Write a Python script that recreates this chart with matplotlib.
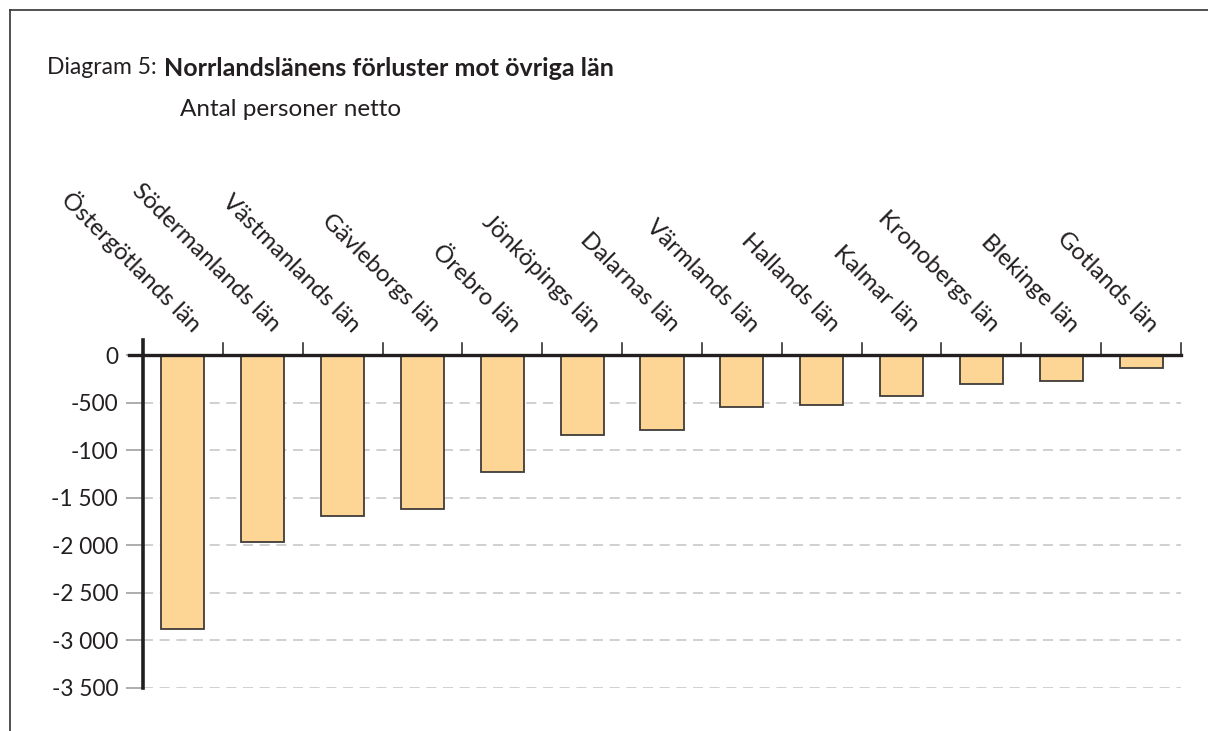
import matplotlib.pyplot as plt
from matplotlib.lines import Line2D
import numpy as np

plt.rcParams['font.family'] = ['Lato', 'DejaVu Sans']

# --- data ---
counties = ["Östergötlands län", "Södermanlands län", "Västmanlands län",
            "Gävleborgs län", "Örebro län", "Jönköpings län", "Dalarnas län",
            "Värmlands län", "Hallands län", "Kalmar län", "Kronobergs län",
            "Blekinge län", "Gotlands län"]
losses = [-2885, -1965, -1690, -1620, -1230, -840, -790,
          -548, -525, -430, -305, -278, -134]
yticks = [0, -500, -1000, -1500, -2000, -2500, -3000, -3500]
ytick_labels = ["0", "-500", "-100", "-1 500", "-2 000", "-2 500", "-3 000", "-3 500"]

bar_color = "#FDD696"
edge_color = "#3f3b38"
axis_color = "#231f20"

W, H = 1208, 731
fig = plt.figure(figsize=(W / 100, H / 100), dpi=100)

# axes box in pixel terms
left, right, top, bottom = 143, 1181, 340, 687.7
ax = fig.add_axes([left / W, 1 - bottom / H, (right - left) / W, (bottom - top) / H])

x = np.arange(len(counties))
ax.bar(x, losses, width=0.54, color=bar_color, edgecolor=edge_color,
       linewidth=1.3, zorder=3)

ax.set_xlim(-0.5, len(counties) - 0.5)
ax.set_ylim(-3500, 158)

# y axis
ax.set_yticks(yticks)
ax.set_yticklabels(ytick_labels, fontsize=16.3, color="#231f20")
ax.tick_params(axis="y", length=12, width=1.2, color="#a0a0a0", pad=6)
for y in yticks[1:]:
    ax.axhline(y, color="#c8c8c8", linewidth=1.2, dashes=(6, 4), zorder=1)

# x axis at zero with ticks between categories (pointing up)
for s in ["top", "right", "bottom"]:
    ax.spines[s].set_visible(False)
ax.spines["left"].set_color(axis_color)
ax.spines["left"].set_linewidth(2.6)
ax.spines["left"].set_zorder(4)
ax.axhline(0, xmin=-14 / (right - left), xmax=1, color=axis_color,
           linewidth=2.4, zorder=5, clip_on=False)
ax.set_xticks([])
bounds = np.arange(0.5, len(counties), 1.0)
for b in bounds:
    ax.plot([b, b], [0, 130], color=axis_color, linewidth=1.1, zorder=4,
            clip_on=False)

# category labels above the axis, rotated
for i, name in enumerate(counties):
    ax.annotate(name, xy=(i, 0), xytext=(6, 19), textcoords="offset pixels",
                rotation=-45, rotation_mode="anchor", ha="right", va="bottom",
                fontsize=17.3, color="#231f20", annotation_clip=False)

# titles
fig.text(47 / W, 1 - 68 / H, "Diagram 5:", fontsize=16.5, color="#231f20",
         va="center", ha="left")
fig.text(164 / W, 1 - 68 / H, "Norrlandslänens förluster mot övriga län",
         fontsize=18, fontweight="bold", color="#231f20", va="center", ha="left")
fig.text(180 / W, 1 - 110 / H, "Antal personer netto", fontsize=17.5,
         color="#231f20", va="center", ha="left")

# frame lines (left and top)
fig.add_artist(Line2D([9.5 / W, 9.5 / W], [0, 1 - 10 / H], color="#333333",
                      linewidth=1.2, transform=fig.transFigure))
fig.add_artist(Line2D([9.5 / W, 1], [1 - 10 / H, 1 - 10 / H], color="#333333",
                      linewidth=1.2, transform=fig.transFigure))

fig.savefig("out.png", dpi=100)
